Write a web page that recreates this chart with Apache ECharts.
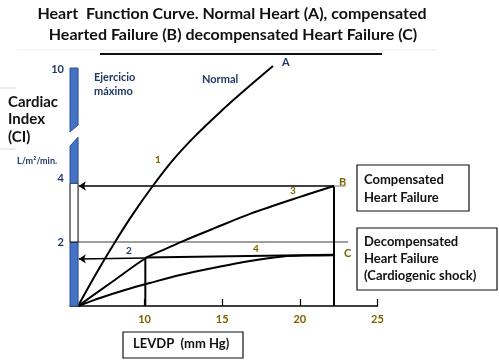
<!DOCTYPE html>
<html><head><meta charset="utf-8">
<script src="https://cdn.jsdelivr.net/npm/echarts@6/dist/echarts.min.js"></script>
<style>html,body{margin:0;padding:0;background:#fff}#c{width:499px;height:362px}</style>
</head><body><div id="c"></div>
<script>
// ---- data ----
const xTicks = [10, 15, 20, 25];
const yTickValues = [2, 4, 7.38];
const yTickLabels = ['2', '4', '10'];
// Curve A (normal heart)
const curveA = [[5.72,0],[6.87,1.0],[8.10,2.0],[9.26,2.88],[10.48,3.72],[11.77,4.53],[13.25,5.31],[14.86,6.06],[16.53,6.78],[18.27,7.5]];
// Curve B (compensated failure)
const curveB = [[5.72,0],[7.90,0.75],[10.09,1.5],[11.32,1.78],[12.48,2.03],[14.54,2.44],[16.79,2.88],[20.01,3.41],[22.2,3.75]];
// Curve C (decompensated failure)
const curveC = [[5.72,0],[7.13,0.25],[8.74,0.5],[10.35,0.72],[12.28,0.97],[14.41,1.19],[16.79,1.41],[18.92,1.55],[20.65,1.58],[22.2,1.59]];
// Plateau 4 from point 2 to C
const plateau = [[10.05,1.52],[22.2,1.6]];
const pointB = [22.2, 3.75];
const point2 = [10.05, 1.5];
const ciLevel2 = 2;
// CI bar segments: [yBottomLeft, yBottomRight, yTopLeft, yTopRight, fill]
const ciBar = [[0,0,2,2,'blue'],[2,2,3.84,3.84,'white'],[3.84,3.84,5.0,5.28,'blue'],[5.44,5.66,7.44,7.44,'blue']];

const X0 = 5.2, XORIG = 5.72;
const chart = echarts.init(document.getElementById('c'), null, {renderer:'canvas'});
const navy = '#1F3864', gold = '#7F6000';

const lineStyle = {color:'#000', width:2};
const option = {
  animation:false,
  grid:{left:70, right:121.5, top:68, bottom:56},
  xAxis:{type:'value', min:X0, max:25,
    axisLine:{lineStyle:{color:'#000', width:1.5}},
    axisTick:{inside:true, length:7, customValues:xTicks, lineStyle:{color:'#000', width:1.2}},
    axisLabel:{customValues:xTicks, color:gold, fontWeight:'bold', fontSize:11, fontFamily:'Lato', margin:8},
    splitLine:{show:false}},
  yAxis:{type:'value', min:0, max:7.44,
    axisLine:{show:false}, axisTick:{show:false}, splitLine:{show:false},
    axisLabel:{customValues:yTickValues, color:navy, fontWeight:'bold', fontSize:11, fontFamily:'Lato', margin:6,
      formatter:function(v){ const i = yTickValues.indexOf(v); return i>=0 ? yTickLabels[i] : ''; }}},
  series:[
    {type:'custom', data:ciBar, z:5, clip:false,
      renderItem:function(params, api){
        const d = ciBar[params.dataIndex];
        const p = [api.coord([X0,d[0]]), api.coord([XORIG,d[1]]), api.coord([XORIG,d[3]]), api.coord([X0,d[2]])];
        return {type:'polygon', shape:{points:p},
          style:{fill: d[4]==='blue' ? '#4472C4' : '#fff', stroke: d[4]==='blue' ? '#2F528F' : '#000', lineWidth:1}};
      }},
    {type:'line', data:[[XORIG,ciLevel2],[23.1,ciLevel2]], showSymbol:false, lineStyle:{color:'#7f7f7f', width:1.5}, z:1},
    {type:'line', data:curveA, smooth:0.3, showSymbol:false, clip:false, lineStyle:lineStyle},
    {type:'line', data:curveB, smooth:0.3, showSymbol:false, lineStyle:lineStyle},
    {type:'line', data:curveC, smooth:0.3, showSymbol:false, lineStyle:lineStyle},
    {type:'line', data:plateau, showSymbol:false, lineStyle:{color:'#000', width:2}},
    {type:'line', data:[pointB,[pointB[0],0]], showSymbol:false, lineStyle:{color:'#000', width:2}},
    {type:'line', data:[point2,[point2[0],0]], showSymbol:false, lineStyle:{color:'#000', width:2}},
    {type:'line', data:[pointB,[22.95,pointB[1]]], showSymbol:false, lineStyle:{color:'#aaa', width:1.5}},
    {type:'lines', coordinateSystem:'cartesian2d', z:4,
      symbol:['none','arrow'], symbolSize:[7,7],
      lineStyle:{color:'#000', width:1.6, opacity:1},
      data:[{coords:[pointB,[XORIG+0.05,pointB[1]]]},{coords:[point2,[XORIG+0.05,point2[1]-0.03]]}]}
  ],
  graphic:[
    {type:'text', x:232, y:6, style:{text:'Heart  Function Curve. Normal Heart (A), compensated', font:'bold 16px Lato', fill:'#111', align:'center'}},
    {type:'text', x:233, y:27, style:{text:'Hearted Failure (B) decompensated Heart Failure (C)', font:'bold 16px Lato', fill:'#111', align:'center'}},
    {type:'line', shape:{x1:17,y1:50,x2:438,y2:50}, style:{stroke:'#eee', lineWidth:1}},
    {type:'line', shape:{x1:100,y1:54,x2:382,y2:54}, style:{stroke:'#111', lineWidth:2}},
    {type:'line', shape:{x1:0,y1:88,x2:16,y2:88}, style:{stroke:'#ddd', lineWidth:1}},
    {type:'line', shape:{x1:0,y1:149,x2:16,y2:149}, style:{stroke:'#ddd', lineWidth:1}},
    {type:'text', left:8, top:93, style:{text:'Cardiac\nIndex\n(CI)', font:'bold 15px Lato', lineHeight:17.5, fill:'#111'}},
    {type:'text', left:17, top:157, style:{text:'L/m²/min.', font:'bold 9px Lato', fill:navy}},
    {type:'text', left:94, top:70, style:{text:'Ejercicio\nmáximo', font:'bold 11px Lato', lineHeight:14, fill:navy}},
    {type:'text', left:202, top:74, style:{text:'Normal', font:'bold 11px Lato', fill:navy}},
    {type:'text', left:282, top:57, style:{text:'A', font:'bold 11px Lato', fill:navy}},
    {type:'text', left:339, top:177, style:{text:'B', font:'bold 11px Lato', fill:gold}},
    {type:'text', left:344, top:248, style:{text:'C', font:'bold 11px Lato', fill:gold}},
    {type:'text', left:155, top:155, style:{text:'1', font:'bold 10px Lato', fill:gold}},
    {type:'text', left:126, top:246, style:{text:'2', font:'bold 10px Lato', fill:navy}},
    {type:'text', left:290, top:186, style:{text:'3', font:'bold 10px Lato', fill:gold}},
    {type:'text', left:253, top:244, style:{text:'4', font:'bold 10px Lato', fill:gold}},
    {type:'rect', shape:{x:357,y:165,width:112,height:46}, style:{fill:'#fff', stroke:'#111', lineWidth:1.2}},
    {type:'text', left:364, top:171, style:{text:'Compensated\nHeart Failure', font:'bold 13px Lato', lineHeight:18, fill:'#111'}},
    {type:'rect', shape:{x:357,y:228,width:140,height:62}, style:{fill:'#fff', stroke:'#111', lineWidth:1.2}},
    {type:'text', left:364, top:233, style:{text:'Decompensated\nHeart Failure\n(Cardiogenic shock)', font:'bold 13px Lato', lineHeight:17, fill:'#111'}},
    {type:'rect', shape:{x:123,y:332,width:120,height:26}, style:{fill:'#fff', stroke:'#111', lineWidth:1.2}},
    {type:'text', left:133, top:337, style:{text:'LEVDP  (mm Hg)', font:'bold 13px Lato', fill:'#111'}}
  ]
};
chart.setOption(option);
</script></body></html>
